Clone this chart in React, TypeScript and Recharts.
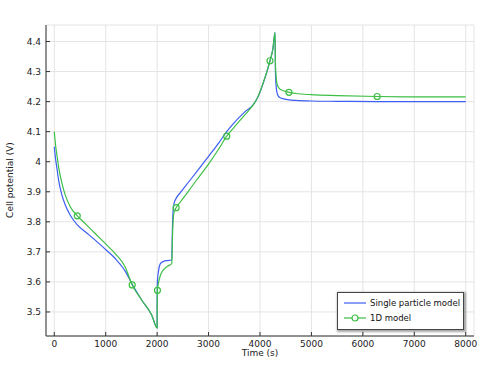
import React from 'react';
import { LineChart, Line, XAxis, YAxis, CartesianGrid, Legend } from 'recharts';

const times = [0, 25, 52, 84, 149, 214, 311, 447, 602, 796, 990, 1184, 1379, 1515, 1702, 1896, 2000, 2001, 2006, 2030, 2060, 2100, 2150, 2200, 2285, 2295, 2310, 2330, 2369, 2450, 2600, 2771, 3000, 3200, 3353, 3500, 3700, 3870, 3950, 4000, 4065, 4130, 4194, 4250, 4292, 4300, 4320, 4350, 4400, 4563, 4700, 5000, 5500, 6278, 7000, 8000];

const singleParticle = [4.05, 4.01, 3.978, 3.939, 3.889, 3.856, 3.822, 3.79, 3.767, 3.739, 3.709, 3.678, 3.636, 3.592, 3.539, 3.489, 3.447, 3.56, 3.605, 3.64, 3.66, 3.666, 3.67, 3.671, 3.673, 3.76, 3.835, 3.862, 3.878, 3.897, 3.93, 3.967, 4.018, 4.063, 4.1, 4.13, 4.165, 4.19, 4.212, 4.232, 4.263, 4.297, 4.336, 4.375, 4.43, 4.3, 4.24, 4.22, 4.212, 4.206, 4.204, 4.202, 4.201, 4.2, 4.2, 4.2];

const oneD = [4.1, 4.055, 4.022, 3.983, 3.928, 3.889, 3.85, 3.82, 3.794, 3.761, 3.728, 3.694, 3.65, 3.59, 3.539, 3.489, 3.447, 3.52, 3.572, 3.6, 3.62, 3.635, 3.645, 3.652, 3.661, 3.73, 3.8, 3.833, 3.847, 3.866, 3.9, 3.94, 3.992, 4.043, 4.085, 4.115, 4.155, 4.19, 4.213, 4.233, 4.264, 4.298, 4.336, 4.375, 4.43, 4.33, 4.27, 4.25, 4.24, 4.231, 4.227, 4.223, 4.22, 4.217, 4.216, 4.216];

const markerTimes = [447, 1515, 2006, 2369, 3353, 4194, 4563, 6278];

const xTicks = [0, 1000, 2000, 3000, 4000, 5000, 6000, 7000, 8000];
const yTicks = [3.5, 3.6, 3.7, 3.8, 3.9, 4.0, 4.1, 4.2, 4.3, 4.4];

const seriesNames = ['Single particle model', '1D model'];
const title = 'Charge Discharge Cycling Potential';
const xLabel = 'Time (s)';
const yLabel = 'Cell potential (V)';

const data = times.map((t, i) => ({ t, spm: singleParticle[i], oneD: oneD[i] }));

const BLUE = '#3d5ef2';
const GREEN = '#3dbf45';
const FONT = '"DejaVu Sans", sans-serif';
const AXIS = '#333';

const fmtY = (v: number) => String(Number(v.toFixed(1)));

const BottomTick = (p: any) => (
  <g>
    <line x1={p.x} x2={p.x} y1={p.y} y2={p.y - 4} stroke={AXIS} />
    <text x={p.x} y={p.y + 11} textAnchor="middle" fontSize={9} fontFamily={FONT} fill="#222">
      {p.payload.value}
    </text>
  </g>
);
const TopTick = (p: any) => (
  <line x1={p.x} x2={p.x} y1={p.y} y2={p.y + 4} stroke={AXIS} />
);
const LeftTick = (p: any) => (
  <g>
    <line x1={p.x} x2={p.x + 4} y1={p.y} y2={p.y} stroke={AXIS} />
    <text x={p.x - 5} y={p.y + 3} textAnchor="end" fontSize={9} fontFamily={FONT} fill="#222">
      {fmtY(p.payload.value)}
    </text>
  </g>
);
const RightTick = (p: any) => (
  <line x1={p.x} x2={p.x - 4} y1={p.y} y2={p.y} stroke={AXIS} />
);

const renderDot = (props: any) => {
  const { cx, cy, payload, index } = props;
  if (!markerTimes.includes(payload.t)) return <g key={`d${index}`} />;
  return <circle key={`d${index}`} cx={cx} cy={cy} r={3} fill="none" stroke={GREEN} strokeWidth={1.2} />;
};

const LegendBox = () => (
  <div
    style={{
      border: '1px solid #444',
      background: '#fff',
      boxShadow: '1px 1px 2px 1px rgba(0,0,0,0.35)',
      padding: '2px 0 3px 6px',
      fontFamily: FONT,
      fontSize: 8.5,
      color: '#111',
      boxSizing: 'border-box',
      whiteSpace: 'nowrap',
      height: 38,
    }}
  >
    <div style={{ display: 'flex', alignItems: 'center', height: 15 }}>
      <svg width={22} height={10} style={{ marginRight: 4, flexShrink: 0 }}>
        <line x1={0} x2={22} y1={5} y2={5} stroke={BLUE} strokeWidth={1.2} />
      </svg>
      <span>{seriesNames[0]}</span>
    </div>
    <div style={{ display: 'flex', alignItems: 'center', height: 15 }}>
      <svg width={22} height={10} style={{ marginRight: 4, flexShrink: 0 }}>
        <line x1={0} x2={22} y1={5} y2={5} stroke={GREEN} strokeWidth={1.2} />
        <circle cx={11} cy={5} r={3} fill="#fff" stroke={GREEN} strokeWidth={1.2} />
      </svg>
      <span>{seriesNames[1]}</span>
    </div>
  </div>
);

export default function App() {
  return (
    <div style={{ position: 'absolute', left: 0, top: 0 }}>
      <LineChart width={481} height={376} data={data} margin={{ top: 25, right: 7, bottom: 20, left: 6 }}>
        <CartesianGrid stroke="#e4e4e4" strokeWidth={1} />
        <XAxis
          dataKey="t"
          type="number"
          domain={[-161, 8161]}
          ticks={xTicks}
          interval={0}
          height={20}
          tickSize={0}
          tickMargin={0}
          tickLine={false}
          tick={BottomTick}
          axisLine={{ stroke: AXIS }}
          allowDataOverflow
          label={{
            content: () => (
              <text x={260} y={356} textAnchor="middle" fontSize={9} fontFamily={FONT} fill="#222">
                {xLabel}
              </text>
            ),
          }}
        />
        <XAxis
          xAxisId="top"
          orientation="top"
          type="number"
          domain={[-161, 8161]}
          ticks={xTicks}
          interval={0}
          height={0}
          tickSize={0}
          tickMargin={0}
          tickLine={false}
          tick={TopTick}
          axisLine={{ stroke: AXIS }}
          allowDataOverflow
          label={{
            content: () => (
              <text x={260} y={19} textAnchor="middle" fontSize={9} fontFamily={FONT} fill="#222">
                {title}
              </text>
            ),
          }}
        />
        <YAxis
          type="number"
          domain={[3.42, 4.455]}
          ticks={yTicks}
          interval={0}
          width={40}
          tickSize={0}
          tickMargin={0}
          tickLine={false}
          tick={LeftTick}
          axisLine={{ stroke: AXIS }}
          allowDataOverflow
          label={{
            content: () => (
              <text x={13} y={180} textAnchor="middle" fontSize={9} fontFamily={FONT} fill="#222" transform="rotate(-90 13 180)">
                {yLabel}
              </text>
            ),
          }}
        />
        <YAxis
          yAxisId="right"
          orientation="right"
          type="number"
          domain={[3.42, 4.455]}
          ticks={yTicks}
          interval={0}
          width={0}
          tickSize={0}
          tickMargin={0}
          tickLine={false}
          tick={RightTick}
          axisLine={{ stroke: AXIS }}
          allowDataOverflow
        />
        <Legend
          layout="horizontal"
          verticalAlign="middle"
          align="center"
          wrapperStyle={{ left: 337, top: 292, width: 127, height: 38 }}
          content={() => <LegendBox />}
        />
        <Line
          name={seriesNames[0]}
          dataKey="spm"
          type="monotone"
          stroke={BLUE}
          strokeWidth={1.2}
          dot={false}
          isAnimationActive={false}
        />
        <Line
          name={seriesNames[1]}
          dataKey="oneD"
          type="monotone"
          stroke={GREEN}
          strokeWidth={1.2}
          dot={renderDot}
          activeDot={false}
          isAnimationActive={false}
        />
      </LineChart>
    </div>
  );
}
